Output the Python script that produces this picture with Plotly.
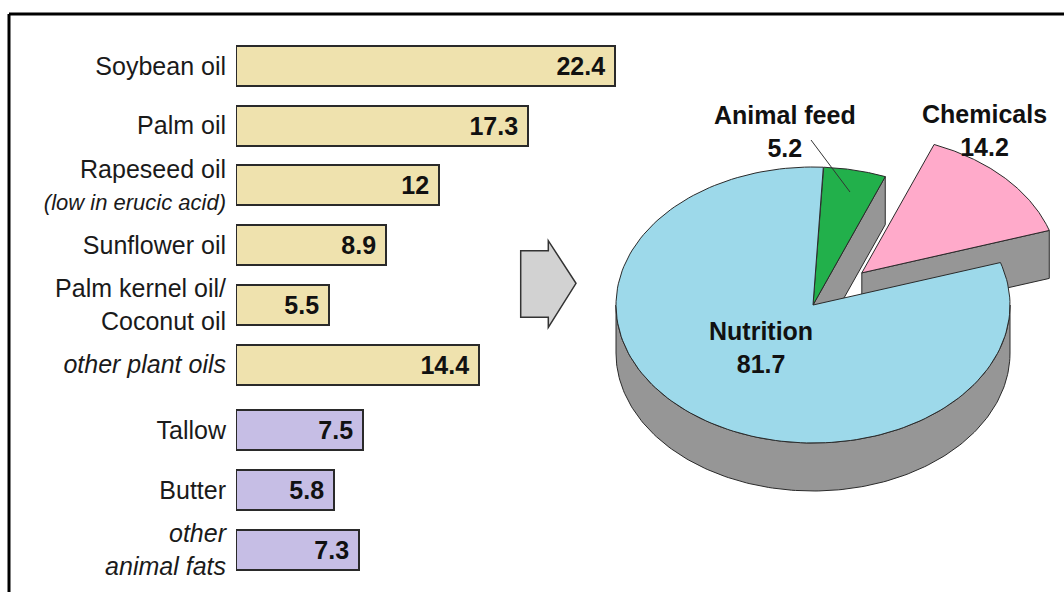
import numpy as np
import plotly.graph_objects as go

# ---------------- data ----------------
plant_labels = [
    "Soybean oil",
    "Palm oil",
    "Rapeseed oil<br><span style='font-size:22px'><i>(low in erucic acid)</i></span>",
    "Sunflower oil",
    "Palm kernel oil/<br>Coconut oil",
    "<i>other plant oils</i>",
]
plant_values = [22.4, 17.3, 12, 8.9, 5.5, 14.4]

animal_labels = ["Tallow", "Butter", "<i>other</i><br><i>animal fats</i>"]
animal_values = [7.5, 5.8, 7.3]

# uses, clockwise from 12 o'clock
use_labels = ["Animal feed", "Chemicals", "Nutrition"]
use_values = [5.2, 14.2, 81.7]

# ---------------- styles ----------------
W, H = 1064, 592
FONT = "Liberation Sans, Arial, sans-serif"
PLANT_COL = "#EFE2AE"
ANIMAL_COL = "#C6BEE5"
USE_COLS = {"Animal feed": "#22B04B", "Chemicals": "#FFAACA", "Nutrition": "#9DD9EA"}
SIDE_COL = "#969696"
EDGE = "#2a2a2a"

# bar layout (pixels)
bar_x0_px = 236
px_per_unit = 16.9
row_px = 59.7
first_row_px = 66
group_gap = 0.1

plant_pos = [float(i) for i in range(len(plant_values))]
animal_pos = [len(plant_values) + group_gap + i for i in range(len(animal_values))]

ytop = -first_row_px / row_px
ybot = ytop + H / row_px

fig = go.Figure()

for vals, pos, col in [(plant_values, plant_pos, PLANT_COL), (animal_values, animal_pos, ANIMAL_COL)]:
    fig.add_trace(go.Bar(
        x=vals, y=pos, orientation="h", width=0.67,
        marker=dict(color=col, line=dict(color=EDGE, width=2)),
        text=vals, texttemplate="%{x}\u00a0", textposition="inside",
        insidetextanchor="end", constraintext="none", textangle=0,
        insidetextfont=dict(family=FONT, size=25, color="#111", weight="bold"),
        hoverinfo="skip", showlegend=False, xaxis="x", yaxis="y",
    ))

# ---------------- 3D-looking pie (computed from values) ----------------
cx, cy, rx, ry, depth = 813.0, 305.0, 197.0, 138.0, 48.0
rot = 3.0
explode = {"Chemicals": 0.34}

total = float(sum(use_values))
starts, ends = [], []
acc = rot
for v in use_values:
    starts.append(acc)
    acc += v / total * 360.0
    ends.append(acc)


def rim(theta_deg, ox=0.0, oy=0.0, dz=0.0):
    t = np.radians(theta_deg)
    return cx + ox + rx * np.sin(t), cy + oy - ry * np.cos(t) + dz


def offset(lbl, a, b):
    k = explode.get(lbl, 0.0)
    m = np.radians((a + b) / 2)
    return k * rx * np.sin(m), -k * ry * np.cos(m)


def add_poly(xs, ys, color):
    fig.add_trace(go.Scatter(
        x=list(xs) + [xs[0]], y=list(ys) + [ys[0]], mode="lines", fill="toself",
        fillcolor=color, line=dict(color=EDGE, width=1),
        hoverinfo="skip", showlegend=False, xaxis="x2", yaxis="y2",
    ))


def end_face(b, ox, oy):
    px, py = rim(b, ox, oy)
    xs = [cx + ox, px, px, cx + ox]
    ys = [cy + oy, py, py + depth, cy + oy + depth]
    add_poly(xs, ys, SIDE_COL)


def top_face(lbl, a, b, ox, oy):
    th = np.linspace(a, b, 160)
    px, py = rim(th, ox, oy)
    xs = [cx + ox] + list(px)
    ys = [cy + oy] + list(py)
    add_poly(xs, ys, USE_COLS[lbl])


def outer_wall(a, b, ox, oy):
    lo, hi = max(a, 90.0), min(b, 270.0)
    if hi <= lo:
        return
    th = np.linspace(lo, hi, 160)
    px, py = rim(th, ox, oy)
    xs = list(px) + list(px[::-1])
    ys = list(py) + list((py + depth)[::-1])
    add_poly(xs, ys, SIDE_COL)


idx = {l: i for i, l in enumerate(use_labels)}
# back to front: exploded slice, small slice, big slice
for lbl in ["Chemicals", "Animal feed", "Nutrition"]:
    i = idx[lbl]
    a, b = starts[i], ends[i]
    ox, oy = offset(lbl, a, b)
    if b % 360 < 180 and lbl != "Nutrition":
        end_face(b, ox, oy)
    outer_wall(a, b, ox, oy)
    top_face(lbl, a, b, ox, oy)

# pie labels
label_pos = {"Animal feed": (785, 131), "Chemicals": (984, 130), "Nutrition": (761, 347)}
for lbl, val in zip(use_labels, use_values):
    x, y = label_pos[lbl]
    fig.add_annotation(
        x=x, y=y, xref="x2", yref="y2", text=f"{lbl}<br>{val}", showarrow=False,
        font=dict(family=FONT, size=25, color="#111", weight="bold"),
        xanchor="center", yanchor="middle", align="center",
    )

shapes = [
    # frame
    dict(type="line", xref="x2", yref="y2", x0=9, y0=14, x1=W, y1=14,
         line=dict(color="black", width=3)),
    dict(type="line", xref="x2", yref="y2", x0=9, y0=14, x1=9, y1=H,
         line=dict(color="black", width=3)),
    # block arrow
    dict(type="path", xref="x2", yref="y2",
         path="M520.7,250.7 L548.3,250.7 L548.3,240.7 L576,283.3 L548.3,327.3 "
              "L548.3,317.3 L520.7,317.3 Z",
         fillcolor="#D2D2D2", line=dict(color="#333", width=1.5)),
    # leader line for Animal feed
    dict(type="line", xref="x2", yref="y2", x0=811, y0=140, x1=850, y1=192,
         line=dict(color="#333", width=1)),
]

fig.update_layout(
    width=W, height=H,
    margin=dict(l=0, r=0, t=0, b=0),
    paper_bgcolor="white", plot_bgcolor="rgba(0,0,0,0)",
    bargap=0, showlegend=False,
    xaxis=dict(domain=[bar_x0_px / W, 1], range=[0, (W - bar_x0_px) / px_per_unit],
               showgrid=False, zeroline=False, showticklabels=False, showline=False,
               fixedrange=True, anchor="y"),
    yaxis=dict(domain=[0, 1], range=[ybot, ytop],
               tickvals=plant_pos + animal_pos,
               ticktext=plant_labels + animal_labels,
               tickfont=dict(family=FONT, size=25, color="#1a1a1a"),
               ticks="", ticklabelstandoff=9,
               showgrid=False, zeroline=False, showline=False, fixedrange=True, anchor="x"),
    xaxis2=dict(domain=[0, 1], range=[0, W], visible=False, fixedrange=True, anchor="y2"),
    yaxis2=dict(domain=[0, 1], range=[H, 0], visible=False, fixedrange=True, anchor="x2"),
    shapes=shapes,
)

fig.write_html("out.html")
